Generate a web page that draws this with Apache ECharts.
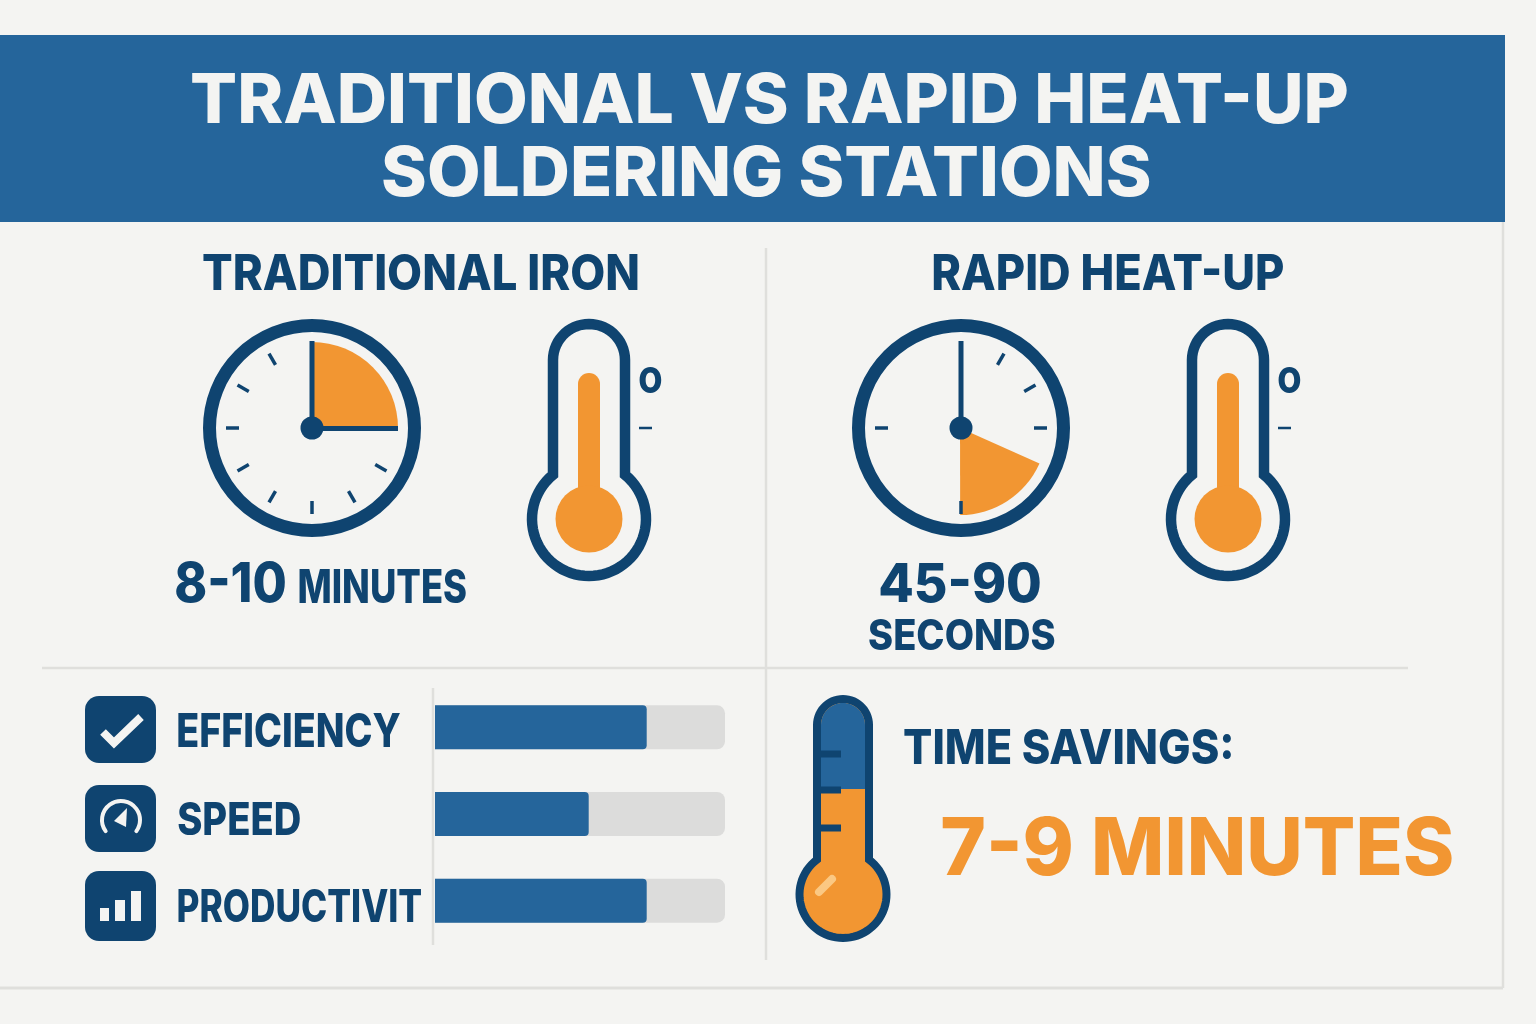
<!DOCTYPE html>
<html>
<head>
<meta charset="utf-8">
<title>Traditional vs Rapid Heat-Up Soldering Stations</title>
<script src="https://cdn.jsdelivr.net/npm/echarts@6/dist/echarts.min.js"></script>
<style>
  html, body { margin: 0; padding: 0; background: #f4f4f2; }
  #main { width: 1536px; height: 1024px; }
</style>
</head>
<body>
<div id="main"></div>
<script>
var categories = ['EFFICIENCY', 'SPEED', 'PRODUCTIVIT'];
var scores = [73, 53, 73];
var traditionalSlice = [25, 75];
var rapidSlice = [18.3, 81.7];

var navy = '#0f4470';
var blue = '#25659b';
var orange = '#f29632';
var paper = '#f4f4f2';
var rule = '#dfdfdc';

var measure = document.createElement('canvas').getContext('2d');
measure.textBaseline = 'middle';

// text fitted to the box it has in the picture
function fit(str, l, r, t, b, fill, size, weight) {
  var font = (weight || 800) + ' ' + size + 'px Inter';
  measure.font = font;
  var m = measure.measureText(str);
  var sx = (r - l) / (m.actualBoundingBoxLeft + m.actualBoundingBoxRight);
  var sy = (b - t) / (m.actualBoundingBoxAscent + m.actualBoundingBoxDescent);
  return {
    type: 'text', silent: true, z: 20,
    x: l + m.actualBoundingBoxLeft * sx,
    y: t + m.actualBoundingBoxAscent * sy,
    scaleX: sx, scaleY: sy,
    style: { text: str, font: font, fill: fill, textAlign: 'left', textVerticalAlign: 'middle' }
  };
}

function seg(x1, y1, x2, y2, color, w, z, cap) {
  return {
    type: 'line', silent: true, z: z || 5,
    shape: { x1: x1, y1: y1, x2: x2, y2: y2 },
    style: { stroke: color, lineWidth: w, lineCap: cap || 'butt' }
  };
}

// outline of tube + bulb, going over the top and round the bulb
function tubePoints(cx, halfW, topY, bulbY, bulbR) {
  var pts = [];
  var i, a;
  for (i = 0; i <= 30; i++) {
    a = Math.PI + Math.PI * i / 30;
    pts.push([cx + halfW * Math.cos(a), topY + halfW * Math.sin(a)]);
  }
  var open = Math.asin(halfW / bulbR);
  for (i = 0; i <= 60; i++) {
    a = open + (2 * Math.PI - 2 * open) * i / 60;
    pts.push([cx + bulbR * Math.sin(a), bulbY - bulbR * Math.cos(a)]);
  }
  return pts;
}

function clock(cx, cy, hours) {
  var els = [
    { type: 'circle', silent: true, z: 1, shape: { cx: cx, cy: cy, r: 102.5 }, style: { fill: 'none', stroke: navy, lineWidth: 13 } },
    { type: 'circle', silent: true, z: 12, shape: { cx: cx, cy: cy, r: 11.5 }, style: { fill: navy } },
    seg(cx, cy, cx, 341, navy, 5, 11)
  ];
  hours.forEach(function (h) {
    var a = h * Math.PI / 6;
    var s = Math.sin(a), c = Math.cos(a);
    els.push(seg(cx + s * 73, cy - c * 73, cx + s * 86, cy - c * 86, navy, 3.5, 11));
  });
  return els;
}

function thermometer(cx) {
  return [
    {
      type: 'polygon', silent: true, z: 5,
      shape: { points: tubePoints(cx, 36, 360, 519, 57) },
      style: { fill: 'none', stroke: navy, lineWidth: 10.5 }
    },
    { type: 'rect', silent: true, z: 6, shape: { x: cx - 11, y: 373, width: 22, height: 130, r: 11 }, style: { fill: orange } },
    { type: 'circle', silent: true, z: 6, shape: { cx: cx, cy: 519, r: 33.5 }, style: { fill: orange } },
    fit('o', cx + 50, cx + 73, 367, 393, navy, 44, 700),
    seg(cx + 50, 428, cx + 63, 428, navy, 2.5, 6)
  ];
}

function bigThermometer() {
  var cx = 843;
  var bluePts = [[821, 789]];
  for (var i = 0; i <= 30; i++) {
    var a = Math.PI + Math.PI * i / 30;
    bluePts.push([cx + 22 * Math.cos(a), 725 + 22 * Math.sin(a)]);
  }
  bluePts.push([865, 789]);
  return [
    {
      type: 'polygon', silent: true, z: 5,
      shape: { points: tubePoints(cx, 26, 725, 894.5, 43.5) },
      style: { fill: orange, stroke: navy, lineWidth: 8 }
    },
    { type: 'polygon', silent: true, z: 6, shape: { points: bluePts }, style: { fill: blue } },
    seg(820, 754, cx - 2, 754, navy, 7, 7),
    seg(820, 790, cx - 2, 790, navy, 7, 7),
    seg(820, 828, cx - 2, 828, navy, 7, 7),
    seg(819, 892, 832, 879, '#fbc883', 8, 7, 'round')
  ];
}

var icons = [
  { type: 'rect', silent: true, z: 5, shape: { x: 85, y: 696, width: 71, height: 67, r: 14 }, style: { fill: navy } },
  { type: 'rect', silent: true, z: 5, shape: { x: 85, y: 785, width: 71, height: 67, r: 14 }, style: { fill: navy } },
  { type: 'rect', silent: true, z: 5, shape: { x: 85, y: 871, width: 71, height: 70, r: 14 }, style: { fill: navy } },
  {
    type: 'polyline', silent: true, z: 6,
    shape: { points: [[103, 732], [114, 743], [141, 717]] },
    style: { fill: 'none', stroke: paper, lineWidth: 8 }
  },
  {
    type: 'arc', silent: true, z: 6,
    shape: { cx: 121, cy: 820, r: 19, startAngle: Math.PI * 0.8, endAngle: Math.PI * 0.2, clockwise: true },
    style: { fill: 'none', stroke: paper, lineWidth: 4, lineCap: 'round' }
  },
  {
    type: 'polygon', silent: true, z: 6,
    shape: { points: [[127, 808], [114, 821], [126, 827]] },
    style: { fill: paper }
  },
  { type: 'rect', silent: true, z: 6, shape: { x: 100, y: 908, width: 9, height: 13 }, style: { fill: paper } },
  { type: 'rect', silent: true, z: 6, shape: { x: 115, y: 900, width: 10, height: 21 }, style: { fill: paper } },
  { type: 'rect', silent: true, z: 6, shape: { x: 131, y: 891, width: 10, height: 30 }, style: { fill: paper } }
];

var labelBoxes = [[178, 400, 713, 747], [178, 300, 802, 835], [178, 421, 889, 922]];
var categoryLabels = categories.map(function (c, i) {
  var b = labelBoxes[i];
  return fit(c, b[0], b[1], b[2], b[3], navy, 45);
});

var elements = [
  { type: 'rect', silent: true, z: 1, shape: { x: 0, y: 35, width: 1505, height: 187 }, style: { fill: blue } },
  seg(1503, 222, 1503, 988, rule, 2.5, 1),
  seg(0, 988, 1503, 988, rule, 3, 1),
  seg(766, 248, 766, 960, rule, 2.5, 1),
  seg(42, 668, 1408, 668, rule, 2.5, 1),
  seg(433, 688, 433, 945, rule, 2.5, 1),
  fit('TRADITIONAL VS RAPID HEAT-UP', 192, 1347, 72, 124, paper, 72),
  fit('SOLDERING STATIONS', 383, 1149, 145, 197, paper, 72),
  fit('TRADITIONAL IRON', 203, 638, 254, 290, navy, 50),
  fit('RAPID HEAT-UP', 933, 1283, 254, 290, navy, 50),
  fit('8-10', 176, 285, 561, 603, navy, 58),
  fit('MINUTES', 299, 466, 569, 603, navy, 46),
  fit('45-90', 880, 1040, 561, 603, navy, 58),
  fit('SECONDS', 869, 1055, 619, 650, navy, 42),
  fit('TIME SAVINGS:', 904, 1231, 729, 764, navy, 48),
  fit('7-9 MINUTES', 942, 1452, 815, 876, orange, 84)
].concat(
  clock(312, 428, [4, 5, 6, 7, 8, 9, 10, 11]),
  [seg(312, 428.5, 398, 428.5, navy, 5, 11)],
  clock(961, 428, [1, 2, 3, 6, 9]),
  thermometer(589),
  thermometer(1228),
  bigThermometer(),
  icons,
  categoryLabels
);

function wedge(center, values, startAngle, r) {
  return {
    type: 'pie',
    silent: true,
    center: center,
    radius: [0, r],
    startAngle: startAngle,
    clockwise: true,
    label: { show: false },
    labelLine: { show: false },
    emphasis: { disabled: true },
    data: [
      { value: values[0], itemStyle: { color: orange } },
      { value: values[1], itemStyle: { color: 'transparent' } }
    ]
  };
}

var chart = echarts.init(document.getElementById('main'));
chart.setOption({
  animation: false,
  backgroundColor: paper,
  grid: { left: 435, top: 684, width: 290, height: 260 },
  xAxis: { type: 'value', min: 0, max: 100, show: false },
  yAxis: { type: 'category', inverse: true, data: categories, show: false },
  graphic: { elements: elements },
  series: [
    {
      type: 'bar',
      data: scores,
      barWidth: 44,
      silent: true,
      showBackground: true,
      backgroundStyle: { color: '#dcdcdb', borderRadius: [0, 8, 8, 0] },
      itemStyle: { color: blue, borderRadius: [0, 4, 4, 0] }
    },
    wedge([312, 428], traditionalSlice, 90, 86),
    wedge([960, 428], rapidSlice, -24, 87)
  ]
});
</script>
</body>
</html>
